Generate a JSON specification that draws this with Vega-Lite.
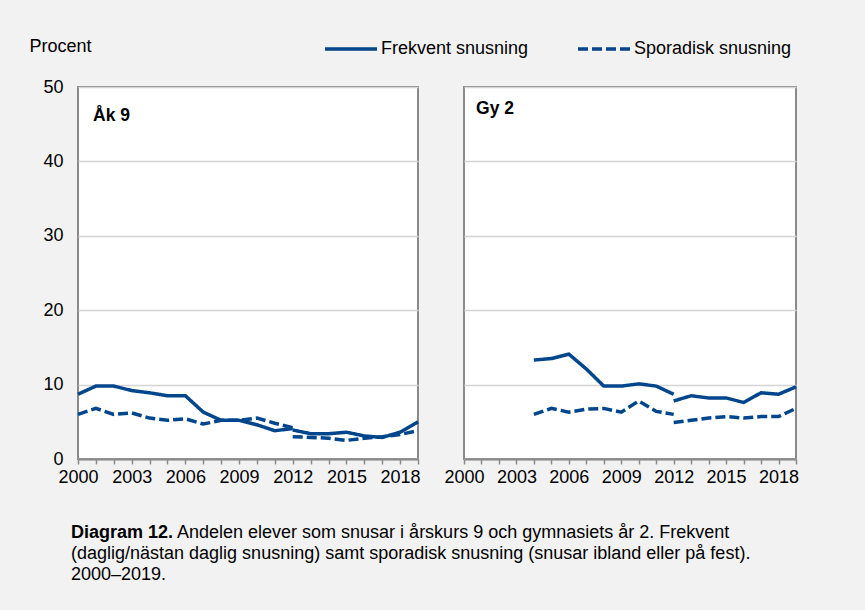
{
  "$schema": "https://vega.github.io/schema/vega-lite/v6.json",
  "background": "#f2f2f2",
  "padding": {"left": 28, "top": 21, "right": 69, "bottom": 27},
  "autosize": {"type": "pad"},
  "bounds": "flush",
  "spacing": 46,
  "config": {
    "font": "Liberation Sans",
    "view": {"stroke": "#8a8a8a", "strokeWidth": 2, "fill": "#ffffff"},
    "axis": {"labelFont": "Liberation Sans", "labelFontSize": 18, "labelColor": "#000000", "titleColor": "#000000", "gridColor": "#d4d4d4", "gridWidth": 1.5, "domainColor": "#8a8a8a", "tickColor": "#8a8a8a"},
    "axisX": {"grid": false, "tickSize": 5, "tickWidth": 1.5, "domainWidth": 2, "labelPadding": 4, "labelFlush": false, "labelOverlap": false},
    "axisY": {"domain": false, "ticks": false, "labelPadding": 15},
    "legend": {"labelFont": "Liberation Sans", "labelFontSize": 18, "labelColor": "#000000"}
  },
  "datasets": {
    "d": [
      {"panel": "Åk 9", "series": "Frekvent snusning", "segment": "a", "year": 2000, "value": 8.7},
      {"panel": "Åk 9", "series": "Frekvent snusning", "segment": "a", "year": 2001, "value": 9.8},
      {"panel": "Åk 9", "series": "Frekvent snusning", "segment": "a", "year": 2002, "value": 9.8},
      {"panel": "Åk 9", "series": "Frekvent snusning", "segment": "a", "year": 2003, "value": 9.2},
      {"panel": "Åk 9", "series": "Frekvent snusning", "segment": "a", "year": 2004, "value": 8.9},
      {"panel": "Åk 9", "series": "Frekvent snusning", "segment": "a", "year": 2005, "value": 8.5},
      {"panel": "Åk 9", "series": "Frekvent snusning", "segment": "a", "year": 2006, "value": 8.5},
      {"panel": "Åk 9", "series": "Frekvent snusning", "segment": "a", "year": 2007, "value": 6.3},
      {"panel": "Åk 9", "series": "Frekvent snusning", "segment": "a", "year": 2008, "value": 5.2},
      {"panel": "Åk 9", "series": "Frekvent snusning", "segment": "a", "year": 2009, "value": 5.2},
      {"panel": "Åk 9", "series": "Frekvent snusning", "segment": "a", "year": 2010, "value": 4.6},
      {"panel": "Åk 9", "series": "Frekvent snusning", "segment": "a", "year": 2011, "value": 3.8},
      {"panel": "Åk 9", "series": "Frekvent snusning", "segment": "a", "year": 2012, "value": 4.1},
      {"panel": "Åk 9", "series": "Frekvent snusning", "segment": "b", "year": 2012, "value": 3.9},
      {"panel": "Åk 9", "series": "Frekvent snusning", "segment": "b", "year": 2013, "value": 3.4},
      {"panel": "Åk 9", "series": "Frekvent snusning", "segment": "b", "year": 2014, "value": 3.4},
      {"panel": "Åk 9", "series": "Frekvent snusning", "segment": "b", "year": 2015, "value": 3.6},
      {"panel": "Åk 9", "series": "Frekvent snusning", "segment": "b", "year": 2016, "value": 3.1},
      {"panel": "Åk 9", "series": "Frekvent snusning", "segment": "b", "year": 2017, "value": 2.9},
      {"panel": "Åk 9", "series": "Frekvent snusning", "segment": "b", "year": 2018, "value": 3.6},
      {"panel": "Åk 9", "series": "Frekvent snusning", "segment": "b", "year": 2019, "value": 5.0},
      {"panel": "Åk 9", "series": "Sporadisk snusning", "segment": "a", "year": 2000, "value": 6.0},
      {"panel": "Åk 9", "series": "Sporadisk snusning", "segment": "a", "year": 2001, "value": 6.8},
      {"panel": "Åk 9", "series": "Sporadisk snusning", "segment": "a", "year": 2002, "value": 6.0},
      {"panel": "Åk 9", "series": "Sporadisk snusning", "segment": "a", "year": 2003, "value": 6.2},
      {"panel": "Åk 9", "series": "Sporadisk snusning", "segment": "a", "year": 2004, "value": 5.5},
      {"panel": "Åk 9", "series": "Sporadisk snusning", "segment": "a", "year": 2005, "value": 5.2},
      {"panel": "Åk 9", "series": "Sporadisk snusning", "segment": "a", "year": 2006, "value": 5.4},
      {"panel": "Åk 9", "series": "Sporadisk snusning", "segment": "a", "year": 2007, "value": 4.7},
      {"panel": "Åk 9", "series": "Sporadisk snusning", "segment": "a", "year": 2008, "value": 5.2},
      {"panel": "Åk 9", "series": "Sporadisk snusning", "segment": "a", "year": 2009, "value": 5.2},
      {"panel": "Åk 9", "series": "Sporadisk snusning", "segment": "a", "year": 2010, "value": 5.5},
      {"panel": "Åk 9", "series": "Sporadisk snusning", "segment": "a", "year": 2011, "value": 4.8},
      {"panel": "Åk 9", "series": "Sporadisk snusning", "segment": "a", "year": 2012, "value": 4.2},
      {"panel": "Åk 9", "series": "Sporadisk snusning", "segment": "b", "year": 2012, "value": 3.0},
      {"panel": "Åk 9", "series": "Sporadisk snusning", "segment": "b", "year": 2013, "value": 2.9},
      {"panel": "Åk 9", "series": "Sporadisk snusning", "segment": "b", "year": 2014, "value": 2.8},
      {"panel": "Åk 9", "series": "Sporadisk snusning", "segment": "b", "year": 2015, "value": 2.5},
      {"panel": "Åk 9", "series": "Sporadisk snusning", "segment": "b", "year": 2016, "value": 2.8},
      {"panel": "Åk 9", "series": "Sporadisk snusning", "segment": "b", "year": 2017, "value": 3.0},
      {"panel": "Åk 9", "series": "Sporadisk snusning", "segment": "b", "year": 2018, "value": 3.3},
      {"panel": "Åk 9", "series": "Sporadisk snusning", "segment": "b", "year": 2019, "value": 3.8},
      {"panel": "Gy 2", "series": "Frekvent snusning", "segment": "a", "year": 2004, "value": 13.3},
      {"panel": "Gy 2", "series": "Frekvent snusning", "segment": "a", "year": 2005, "value": 13.5},
      {"panel": "Gy 2", "series": "Frekvent snusning", "segment": "a", "year": 2006, "value": 14.1},
      {"panel": "Gy 2", "series": "Frekvent snusning", "segment": "a", "year": 2007, "value": 12.1},
      {"panel": "Gy 2", "series": "Frekvent snusning", "segment": "a", "year": 2008, "value": 9.8},
      {"panel": "Gy 2", "series": "Frekvent snusning", "segment": "a", "year": 2009, "value": 9.8},
      {"panel": "Gy 2", "series": "Frekvent snusning", "segment": "a", "year": 2010, "value": 10.1},
      {"panel": "Gy 2", "series": "Frekvent snusning", "segment": "a", "year": 2011, "value": 9.8},
      {"panel": "Gy 2", "series": "Frekvent snusning", "segment": "a", "year": 2012, "value": 8.7},
      {"panel": "Gy 2", "series": "Frekvent snusning", "segment": "b", "year": 2012, "value": 7.8},
      {"panel": "Gy 2", "series": "Frekvent snusning", "segment": "b", "year": 2013, "value": 8.5},
      {"panel": "Gy 2", "series": "Frekvent snusning", "segment": "b", "year": 2014, "value": 8.2},
      {"panel": "Gy 2", "series": "Frekvent snusning", "segment": "b", "year": 2015, "value": 8.2},
      {"panel": "Gy 2", "series": "Frekvent snusning", "segment": "b", "year": 2016, "value": 7.6},
      {"panel": "Gy 2", "series": "Frekvent snusning", "segment": "b", "year": 2017, "value": 8.9},
      {"panel": "Gy 2", "series": "Frekvent snusning", "segment": "b", "year": 2018, "value": 8.7},
      {"panel": "Gy 2", "series": "Frekvent snusning", "segment": "b", "year": 2019, "value": 9.7},
      {"panel": "Gy 2", "series": "Sporadisk snusning", "segment": "a", "year": 2004, "value": 6.0},
      {"panel": "Gy 2", "series": "Sporadisk snusning", "segment": "a", "year": 2005, "value": 6.8},
      {"panel": "Gy 2", "series": "Sporadisk snusning", "segment": "a", "year": 2006, "value": 6.3},
      {"panel": "Gy 2", "series": "Sporadisk snusning", "segment": "a", "year": 2007, "value": 6.7},
      {"panel": "Gy 2", "series": "Sporadisk snusning", "segment": "a", "year": 2008, "value": 6.8},
      {"panel": "Gy 2", "series": "Sporadisk snusning", "segment": "a", "year": 2009, "value": 6.3},
      {"panel": "Gy 2", "series": "Sporadisk snusning", "segment": "a", "year": 2010, "value": 7.8},
      {"panel": "Gy 2", "series": "Sporadisk snusning", "segment": "a", "year": 2011, "value": 6.4},
      {"panel": "Gy 2", "series": "Sporadisk snusning", "segment": "a", "year": 2012, "value": 6.0},
      {"panel": "Gy 2", "series": "Sporadisk snusning", "segment": "b", "year": 2012, "value": 4.9},
      {"panel": "Gy 2", "series": "Sporadisk snusning", "segment": "b", "year": 2013, "value": 5.2},
      {"panel": "Gy 2", "series": "Sporadisk snusning", "segment": "b", "year": 2014, "value": 5.5},
      {"panel": "Gy 2", "series": "Sporadisk snusning", "segment": "b", "year": 2015, "value": 5.7},
      {"panel": "Gy 2", "series": "Sporadisk snusning", "segment": "b", "year": 2016, "value": 5.5},
      {"panel": "Gy 2", "series": "Sporadisk snusning", "segment": "b", "year": 2017, "value": 5.7},
      {"panel": "Gy 2", "series": "Sporadisk snusning", "segment": "b", "year": 2018, "value": 5.7},
      {"panel": "Gy 2", "series": "Sporadisk snusning", "segment": "b", "year": 2019, "value": 6.8}
    ]
  },
  "hconcat": [
    {
      "width": 340,
      "height": 372,
      "encoding": {
        "x": {"field": "year", "type": "quantitative", "scale": {"domain": [2000, 2019], "nice": false, "zero": false},
          "axis": {"values": [2000,2001,2002,2003,2004,2005,2006,2007,2008,2009,2010,2011,2012,2013,2014,2015,2016,2017,2018,2019], "labelExpr": "(datum.value - 2000) % 3 === 0 ? '' + datum.value : ''", "title": null}},
        "y": {"field": "value", "type": "quantitative", "scale": {"domain": [0, 50], "nice": false},
          "axis": {"values": [0,10,20,30,40,50], "title": "Procent", "titleAngle": 0, "titleAlign": "left", "titleBaseline": "middle", "titleX": -49, "titleY": -41, "titleFontWeight": "normal", "titleFontSize": 18, "titleFont": "Liberation Sans"}}
      },
      "layer": [
        {
          "data": {"name": "d"},
          "transform": [{"filter": "datum.panel === 'Åk 9'"}],
          "mark": {"type": "line", "color": "#00468C", "strokeWidth": 3.5},
          "encoding": {
            "strokeDash": {"field": "series", "type": "nominal",
              "scale": {"domain": ["Frekvent snusning", "Sporadisk snusning"], "range": [[1, 0], [10, 4]]},
              "legend": {"orient": "none", "legendX": 245, "legendY": -66, "direction": "horizontal", "title": null, "symbolType": "stroke", "symbolSize": 2704, "symbolStrokeColor": "#00468C", "symbolStrokeWidth": 3.5, "labelOffset": 2, "columnPadding": 42}},
            "detail": {"field": "segment"}
          }
        },
        {
          "data": {"values": [{"label": "Åk 9", "year": 2000.84, "value": 46.1}]},
          "mark": {"type": "text", "fontWeight": "bold", "fontSize": 17.5, "align": "left", "baseline": "middle"},
          "encoding": {"text": {"field": "label"}}
        },
        {
          "data": {"values": [{"t": "Diagram 12."}]},
          "mark": {"type": "text", "fontWeight": "bold", "fontSize": 18, "align": "left", "baseline": "middle"},
          "encoding": {"x": {"value": -7}, "y": {"value": 446}, "text": {"field": "t"}}
        },
        {
          "data": {"values": [{"t": "Andelen elever som snusar i årskurs 9 och gymnasiets år 2. Frekvent"}]},
          "mark": {"type": "text", "fontSize": 18, "align": "left", "baseline": "middle"},
          "encoding": {"x": {"value": 99}, "y": {"value": 446}, "text": {"field": "t"}}
        },
        {
          "data": {"values": [{"t": "(daglig/nästan daglig snusning) samt sporadisk snusning (snusar ibland eller på fest)."}]},
          "mark": {"type": "text", "fontSize": 18, "align": "left", "baseline": "middle"},
          "encoding": {"x": {"value": -7}, "y": {"value": 467}, "text": {"field": "t"}}
        },
        {
          "data": {"values": [{"t": "2000–2019."}]},
          "mark": {"type": "text", "fontSize": 18, "align": "left", "baseline": "middle"},
          "encoding": {"x": {"value": -7}, "y": {"value": 488}, "text": {"field": "t"}}
        }
      ]
    },
    {
      "width": 332,
      "height": 372,
      "encoding": {
        "x": {"field": "year", "type": "quantitative", "scale": {"domain": [2000, 2019], "nice": false, "zero": false},
          "axis": {"values": [2000,2001,2002,2003,2004,2005,2006,2007,2008,2009,2010,2011,2012,2013,2014,2015,2016,2017,2018,2019], "labelExpr": "(datum.value - 2000) % 3 === 0 ? '' + datum.value : ''", "title": null}},
        "y": {"field": "value", "type": "quantitative", "scale": {"domain": [0, 50], "nice": false},
          "axis": {"values": [0,10,20,30,40,50], "labels": false, "title": null}}
      },
      "layer": [
        {
          "data": {"name": "d"},
          "transform": [{"filter": "datum.panel === 'Gy 2'"}],
          "mark": {"type": "line", "color": "#00468C", "strokeWidth": 3.5},
          "encoding": {
            "strokeDash": {"field": "series", "type": "nominal"},
            "detail": {"field": "segment"}
          }
        },
        {
          "data": {"values": [{"label": "Gy 2", "year": 2000.69, "value": 47.1}]},
          "mark": {"type": "text", "fontWeight": "bold", "fontSize": 17.5, "align": "left", "baseline": "middle"},
          "encoding": {"text": {"field": "label"}}
        }
      ]
    }
  ]
}
